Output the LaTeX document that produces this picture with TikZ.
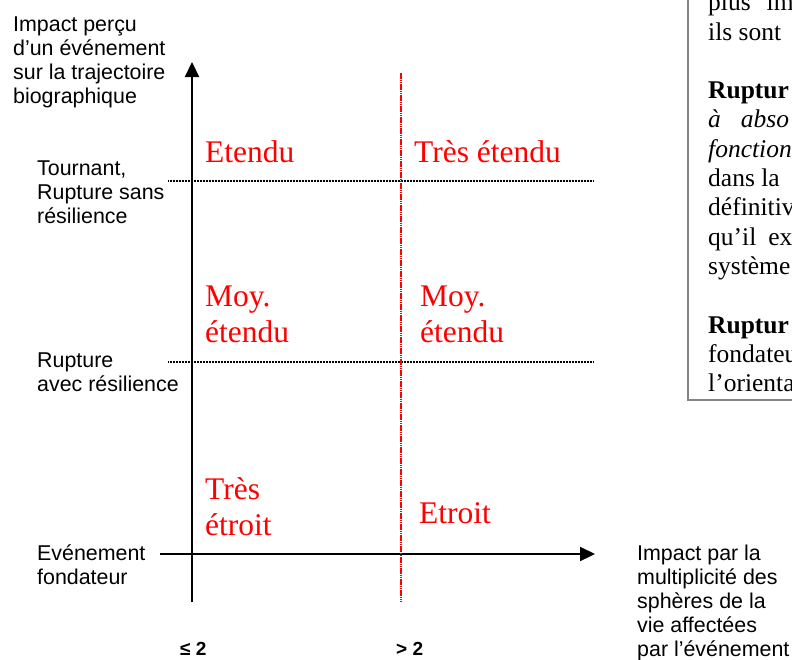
\documentclass[tikz,border=0pt]{standalone}
\usepackage{fontspec}
\setmainfont{Liberation Serif}
\setsansfont{Liberation Sans}
\usetikzlibrary{arrows.meta}
\definecolor{cellred}{HTML}{FF0000}
\definecolor{framegray}{HTML}{858585}

\begin{document}
\begin{tikzpicture}[x=1pt, y=-1pt,
    axislabel/.style={font=\sffamily\fontsize{21.4}{24}\selectfont, align=left, anchor=base west, inner sep=0pt},
    cell/.style={font=\fontsize{31.5}{36}\selectfont, text=cellred, align=left, anchor=base west, inner sep=0pt},
    level/.style={black, line width=1.5pt, dash pattern=on 1pt off 0.5pt},
    axis/.style={line width=2.2pt, -{Triangle[length=15pt, width=14pt]}}]
        \useasboundingbox (0,0) rectangle (792,659);
        % axes
        \coordinate (xstart) at (160,554);
        \coordinate (xend) at (595,554);
        \coordinate (ystart) at (192,602);
        \coordinate (yend) at (192,62);
        \draw[axis] (xstart) -- (xend);
        \draw[axis] (ystart) -- (yend);
        % thresholds
        \coordinate (hi-l) at (168,181);
        \coordinate (hi-r) at (594,181);
        \coordinate (mid-l) at (168,362);
        \coordinate (mid-r) at (594,362);
        \draw[level] (hi-l) -- (hi-r);
        \draw[level] (mid-l) -- (mid-r);
        \coordinate (split-t) at (401,73);
        \coordinate (split-b) at (401,602);
        \draw[cellred, line width=1.1pt, dash pattern=on 1.6pt off 0.6pt] (split-t) -- (split-b);
        % vertical axis labels (placed at the baseline of their last line)
        \node[axislabel] (yaxis) at (13,103) {Impact perçu\\d’un événement\\sur la trajectoire\\biographique};
        \node[axislabel] (tournant) at (37,223) {Tournant,\\Rupture sans\\résilience};
        \node[axislabel] (rupture) at (37,391) {Rupture\\avec résilience};
        \node[axislabel] (fondateur) at (37,584) {Evénement\\fondateur};
        % horizontal axis labels
        \node[axislabel] (xaxis) at (637,656) {Impact par la\\multiplicité des\\sphères de la\\vie affectées\\par l’événement};
        \node[axislabel, font=\sffamily\bfseries\fontsize{19}{22}\selectfont] (few) at (180,655) {≤ 2};
        \node[axislabel, font=\sffamily\bfseries\fontsize{19}{22}\selectfont] (many) at (396,655) {> 2};
        % cells
        \node[cell] (etendu) at (205,162) {Etendu};
        \node[cell] (tresetendu) at (414,162) {Très étendu};
        \node[cell] (moyleft) at (205,342) {Moy.\\étendu};
        \node[cell] (moyright) at (420,342) {Moy.\\étendu};
        \node[cell] (tresetroit) at (205,535) {Très\\étroit};
        \node[cell] (etroit) at (419,523) {Etroit};
        % cut text box
        \begin{scope}
          \clip (0,0) rectangle (792,659);
          \draw[framegray, line width=1.5pt] (688,-5) -- (688,400) -- (800,400);
          \node[anchor=base west, inner sep=0pt, align=left, font=\fontsize{25.5}{29.3}\selectfont] (note) at (708,391.6)
            {plus\hspace{16pt}im\\ils sont\\[29.3pt]\textbf{Ruptur}\\\textit{à\hspace{20pt}abso}\\\textit{fonction}\\dans la\\définitiv\\qu’il\hspace{12pt}ex\\système\\[29.3pt]\textbf{Ruptur}\\fondateu\\l’orienta};
        \end{scope}
      \end{tikzpicture}
\end{document}
